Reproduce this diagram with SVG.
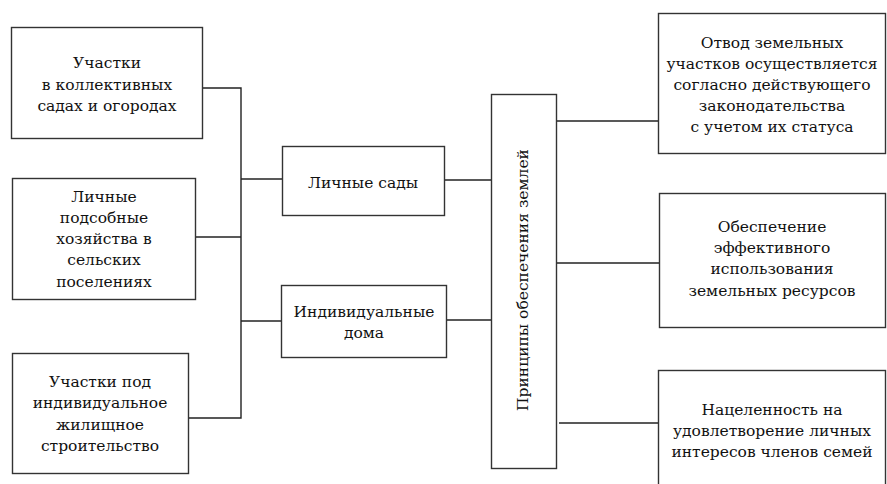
<svg xmlns="http://www.w3.org/2000/svg" width="887" height="484" viewBox="0 0 887 484">
<style>
.box{fill:#fff;stroke:#333;stroke-width:1.4}
.ln{fill:none;stroke:#222;stroke-width:1.4}
.t{font-family:"DejaVu Serif",serif;font-size:15.5px;fill:#111;text-anchor:middle}
</style>
<rect width="887" height="484" fill="#fff"/>
<g id="connectors" class="ln">
<polyline points="203,88 241,88 241,418 189,418"/>
<line x1="196" y1="237" x2="241" y2="237"/>
<line x1="241" y1="179" x2="282" y2="179"/>
<line x1="241" y1="321" x2="281" y2="321"/>
<line x1="445" y1="180" x2="491" y2="180"/>
<line x1="447" y1="320" x2="491" y2="320"/>
<line x1="557" y1="121" x2="658" y2="121"/>
<line x1="557" y1="263" x2="660" y2="263"/>
<line x1="559" y1="423" x2="658" y2="423"/>
</g>
<g id="n1" class="t"><rect class="box" x="11.5" y="27.5" width="191" height="111"/>
<text x="107" y="68">Участки</text>
<text x="107" y="90">в коллективных</text>
<text x="107" y="111">садах и огородах</text></g>
<g id="n2" class="t"><rect class="box" x="12.5" y="178.5" width="183" height="121"/>
<text x="104" y="202">Личные</text>
<text x="104" y="223">подсобные</text>
<text x="104" y="244">хозяйства в</text>
<text x="104" y="265">сельских</text>
<text x="104" y="287">поселениях</text></g>
<g id="n3" class="t"><rect class="box" x="12.5" y="353.5" width="176" height="120"/>
<text x="100" y="387">Участки под</text>
<text x="100" y="408">индивидуальное</text>
<text x="100" y="430">жилищное</text>
<text x="100" y="451">строительство</text></g>
<g id="n4" class="t"><rect class="box" x="282.5" y="146.5" width="162" height="69"/>
<text x="363" y="188">Личные сады</text></g>
<g id="n5" class="t"><rect class="box" x="281.5" y="285.5" width="165" height="72"/>
<text x="364" y="317">Индивидуальные</text>
<text x="364" y="338">дома</text></g>
<g id="n6" class="t"><rect class="box" x="491.5" y="94.5" width="65" height="374"/>
<text transform="translate(528,280) rotate(-90)">Принципы обеспечения землей</text></g>
<g id="n7" class="t"><rect class="box" x="658.5" y="13.5" width="227" height="140"/>
<text x="772" y="48">Отвод земельных</text>
<text x="772" y="69">участков осуществляется</text>
<text x="772" y="90">согласно действующего</text>
<text x="772" y="111">законодательства</text>
<text x="772" y="132">с учетом их статуса</text></g>
<g id="n8" class="t"><rect class="box" x="659.5" y="193.5" width="226" height="134"/>
<text x="772" y="232">Обеспечение</text>
<text x="772" y="253">эффективного</text>
<text x="772" y="274">использования</text>
<text x="772" y="296">земельных ресурсов</text></g>
<g id="n9" class="t"><rect class="box" x="658.5" y="370.5" width="227" height="130"/>
<text x="772" y="415">Нацеленность на</text>
<text x="772" y="436">удовлетворение личных</text>
<text x="772" y="457">интересов членов семей</text></g>
</svg>
